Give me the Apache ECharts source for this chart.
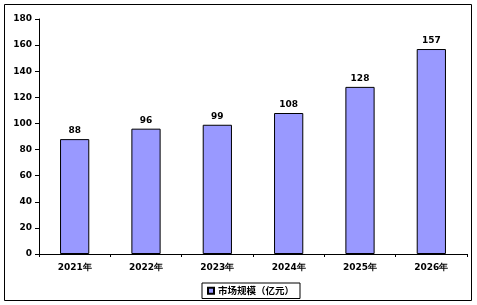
<!DOCTYPE html>
<html>
<head>
<meta charset="utf-8">
<script src="https://cdn.jsdelivr.net/npm/echarts@6/dist/echarts.min.js"></script>
<style>
  html, body { margin: 0; padding: 0; background: #fff; }
  #chart { width: 477px; height: 305px; }
</style>
</head>
<body>
<div id="chart"></div>
<script>
const years = ['2021年', '2022年', '2023年', '2024年', '2025年', '2026年']
const marketSize = [88, 96, 99, 108, 128, 157]
const seriesName = '市场规模（亿元）'

const font = 'DejaVu Sans, Verdana, sans-serif'
const chart = echarts.init(document.getElementById('chart'))

chart.setOption({
  animation: false,
  graphic: [{
    type: 'rect',
    shape: { x: 4.5, y: 4.5, width: 467, height: 296 },
    style: { fill: 'none', stroke: '#000', lineWidth: 1 },
    silent: true
  }],
  grid: { left: 39, right: 10, top: 19, bottom: 51 },
  legend: {
    left: 202, top: 283,
    padding: [3, 6, 3, 5],
    borderColor: '#000', borderWidth: 1,
    itemWidth: 6, itemHeight: 6, itemGap: 4,
    icon: 'rect',
    textStyle: { fontFamily: 'Noto Sans CJK SC, ' + font, fontSize: 9.5, fontWeight: 'bold', color: '#000', padding: [0, 0, 0, -1] },
    data: [seriesName]
  },
  xAxis: {
    type: 'category',
    data: years,
    axisLine: { lineStyle: { color: '#000', width: 1 } },
    axisTick: { show: true, length: 3, lineStyle: { color: '#000' } },
    axisLabel: { margin: 9, fontFamily: font, fontSize: 9, fontWeight: 'bold', color: '#000' }
  },
  yAxis: {
    type: 'value',
    min: 0, max: 180, interval: 20,
    axisLine: { show: true, lineStyle: { color: '#000', width: 1 } },
    axisTick: { show: true, length: 4, lineStyle: { color: '#000' } },
    splitLine: { show: false },
    axisLabel: { margin: 7, fontFamily: font, fontSize: 9, fontWeight: 'bold', color: '#000' }
  },
  series: [{
    name: seriesName,
    type: 'bar',
    data: marketSize,
    barWidth: '41%',
    itemStyle: { color: '#9999ff', borderColor: '#000', borderWidth: 1 },
    label: {
      show: true, position: 'top', distance: 4,
      fontFamily: font, fontSize: 9, fontWeight: 'bold', color: '#000'
    }
  }]
})
</script>
</body>
</html>
